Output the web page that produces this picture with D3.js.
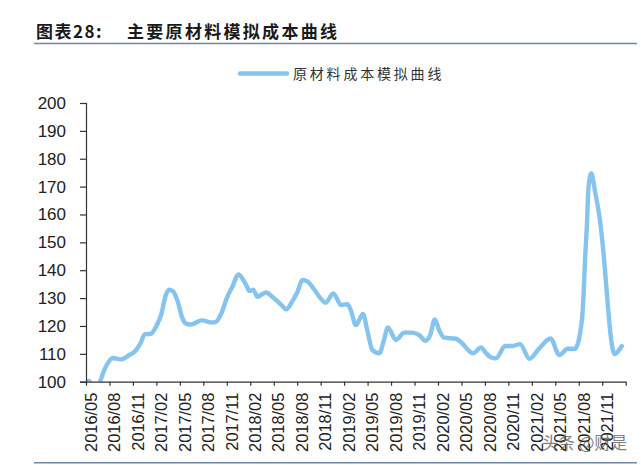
<!DOCTYPE html>
<html>
<head>
<meta charset="utf-8">
<script src="https://cdn.jsdelivr.net/npm/d3@7"></script>
<style>
	html, body { margin: 0; padding: 0; background: #fff; }
	svg { display: block; }
	.tick text { font-family: "Liberation Sans", Arial, sans-serif; fill: #222; }
	.domain, .tick line { stroke: #333; stroke-width: 1.2; }
</style>
</head>
<body>
<svg id="chart" width="641" height="465"></svg>
<script>
const titleLabel = '图表28:';
const titleText = '主要原材料模拟成本曲线';
const seriesName = '原材料成本模拟曲线';
const watermark = '头条 @财是';

const dateLabels = ['2016/05','2016/08','2016/11','2017/02','2017/05','2017/08','2017/11','2018/02','2018/05','2018/08','2018/11','2019/02','2019/05','2019/08','2019/11','2020/02','2020/05','2020/08','2020/11','2021/02','2021/05','2021/08','2021/11'];
const yTicks = [100,110,120,130,140,150,160,170,180,190,200];

// months since 2016/05
const months = [0,0.4,0.9,1.4,1.8,2.3,3,3.4,4.4,5.5,6.3,7,7.5,8.3,9,9.6,10.2,10.6,11.1,11.7,12.3,12.7,13.4,14.8,16,16.6,17.3,18,18.7,19.5,20,20.6,20.9,21.4,21.9,23,23.8,25,25.6,26.3,27,27.7,28.3,29.2,30,30.65,31.6,32.65,33.4,33.85,34.5,35.4,36,36.6,37.5,38.1,38.6,39.6,40.7,41.7,42.6,43.4,44,44.6,45.15,45.8,47.3,47.9,49.5,50.5,51.1,51.8,52.4,53.6,54.5,55.5,56.7,57.9,59.4,60.5,61.6,62.5,63.4,63.6,63.8,64.05,64.25,64.6,65.1,65.75,66.2,66.7,67.1,67.6,68,68.5];
const cost = [100,100.3,98,98,100,104,107.5,108.5,108,109.5,111,114,117,117.2,120,124,131,133,132.5,129,123,121,120.5,122,121.3,121.5,124.5,130,134,138.5,137,134,132.5,133,130.5,132,130.5,127.5,126,128.5,132,136.5,136,133,129.9,128.3,131.7,127.5,127.8,125.7,120.3,124.3,117.9,111.4,110.2,115,119.5,115,117.6,117.6,116.7,114.7,116.7,122.3,118.5,115.8,115.4,114.3,110.2,112.3,110.4,108.7,108.4,112.8,112.8,113.5,108.2,111.8,115.5,109.6,111.8,111.8,122,130.5,143.6,156.8,169.9,174.7,168,157,145,128,116,109.9,110.8,112.8];

const svg = d3.select('#chart');

const x = d3.scaleLinear().domain([0, 69]).range([86, 625.7]);
const y = d3.scaleLinear().domain([100, 200]).range([381.7, 103]);

// the series dips under the axis at the start and is cut off there
svg.append('clipPath')
	.attr('id', 'plot-clip')
	.append('rect')
	.attr('x', x.range()[0]).attr('y', y.range()[1])
	.attr('width', x.range()[1] - x.range()[0])
	.attr('height', y.range()[0] - y.range()[1]);

// header
svg.append('text')
	.attr('x', 36).attr('y', 38)
	.style('font-family', '"Noto Sans CJK SC", sans-serif')
	.style('font-weight', 700).style('font-size', '17px').style('letter-spacing', '1.5px')
	.style('fill', '#1a1a1a')
	.text(titleLabel);

svg.append('text')
	.attr('x', 127).attr('y', 38)
	.style('font-family', '"Noto Sans CJK SC", sans-serif')
	.style('font-weight', 700).style('font-size', '17px').style('letter-spacing', '2.3px')
	.style('fill', '#1a1a1a')
	.text(titleText);

svg.append('line')
	.attr('x1', 34).attr('x2', 637).attr('y1', 43.5).attr('y2', 43.5)
	.style('stroke', '#6d88a8').style('stroke-width', 1.6);

svg.append('line')
	.attr('x1', 34).attr('x2', 637).attr('y1', 462.7).attr('y2', 462.7)
	.style('stroke', '#6d88a8').style('stroke-width', 1.6);

// legend
svg.append('line')
	.attr('x1', 240).attr('x2', 287).attr('y1', 73.5).attr('y2', 73.5)
	.style('stroke', '#85c4ef').style('stroke-width', 4.5).style('stroke-linecap', 'round');

svg.append('text')
	.attr('x', 293).attr('y', 79)
	.style('font-family', '"Noto Sans CJK SC", sans-serif')
	.style('font-size', '14px').style('letter-spacing', '2.8px')
	.style('fill', '#333')
	.text(seriesName);

// series goes under the axes
const line = d3.line()
	.x((d) => x(d[0]))
	.y((d) => y(d[1]))
	.curve(d3.curveMonotoneX);

svg.append('path')
	.datum(months.map((m, i) => [m, cost[i]]))
	.attr('d', line)
	.attr('clip-path', 'url(#plot-clip)')
	.style('fill', 'none')
	.style('stroke', '#85c4ef')
	.style('stroke-width', 4.4)
	.style('stroke-linejoin', 'round')
	.style('stroke-linecap', 'round');

// axes
const yAxis = d3.axisLeft(y).tickValues(yTicks).tickSize(6).tickPadding(14);
const xAxis = d3.axisBottom(x)
	.tickValues(dateLabels.map((d, i) => i * 3).concat([69]))
	.tickFormat((d) => dateLabels[d / 3] || '')
	.tickSize(4).tickSizeOuter(0);

svg.append('g')
	.attr('transform', 'translate(86,0)')
	.call(yAxis)
	.selectAll('text')
	.style('font-size', '17px');

const gx = svg.append('g')
	.attr('transform', 'translate(0,381.7)')
	.call(xAxis);

gx.selectAll('text')
	.style('font-size', '16.4px')
	.attr('text-anchor', 'end')
	.attr('transform', 'rotate(-90)')
	.attr('x', -11)
	.attr('y', 4.5)
	.attr('dy', '0.35em');

// watermark
svg.append('text')
	.attr('x', 542).attr('y', 449)
	.style('font-family', '"Noto Sans CJK SC", sans-serif')
	.style('font-size', '16.5px')
	.style('fill', '#555').style('opacity', 0.75)
	.text(watermark);
</script>
</body>
</html>
